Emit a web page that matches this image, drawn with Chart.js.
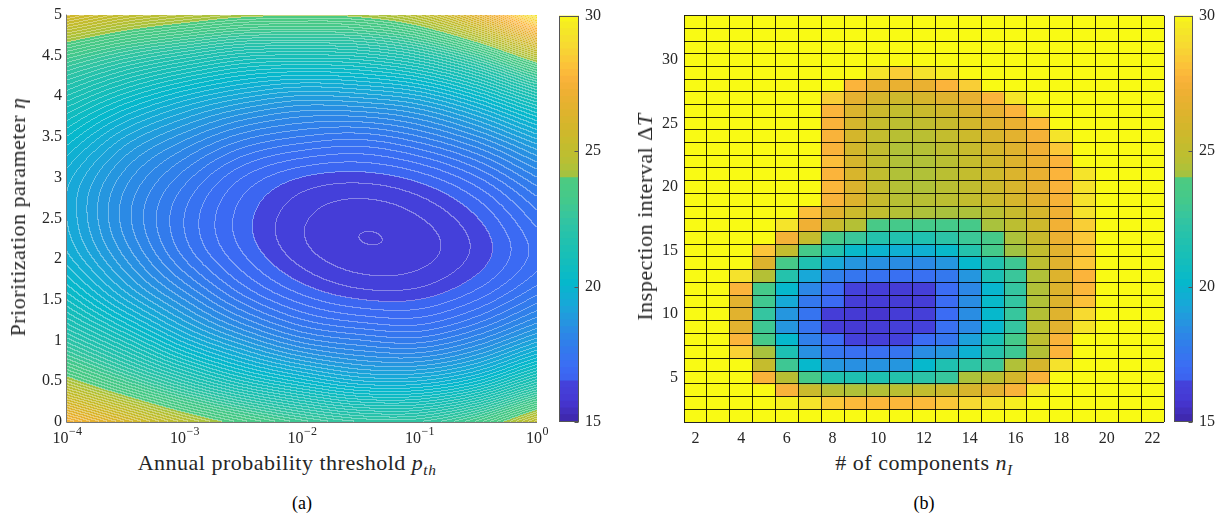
<!DOCTYPE html>
<html>
<head>
<meta charset="utf-8">
<script src="https://cdn.jsdelivr.net/npm/chart.js@4.4.1/dist/chart.umd.min.js"></script>
<style>
  body { margin: 0; background: #fff; }
  #wrap { position: relative; width: 1225px; height: 525px; overflow: hidden;
          font-family: 'Liberation Serif', 'Times New Roman', serif; color: #262626; }
  canvas { position: absolute; top: 0; }
  .lbl { position: absolute; white-space: nowrap; transform: translate(-50%, -50%);
         font-size: 22px; letter-spacing: 0.5px; line-height: 1; }
  .rot { transform: translate(-50%, -50%) rotate(-90deg); }
  .cap { font-size: 18px; letter-spacing: 0; color: #000; }
  sub { font-size: 70%; vertical-align: -0.35em; line-height: 0; }
</style>
</head>
<body>
<div id="wrap">
  <canvas id="contourChart" width="560" height="450" style="left:0"></canvas>
  <canvas id="contourBar" width="80" height="450" style="left:545px"></canvas>
  <canvas id="gridChart" width="570" height="450" style="left:600px"></canvas>
  <canvas id="gridBar" width="61" height="450" style="left:1164px"></canvas>

  <div class="lbl rot" style="left:18px; top:217px">Prioritization parameter <i>η</i></div>
  <div class="lbl" style="left:287px; top:463px">Annual probability threshold <i>p</i><sub><i>th</i></sub></div>
  <div class="lbl rot" style="left:645px; top:217px">Inspection interval Δ<i>T</i></div>
  <div class="lbl" style="left:924px; top:463px"># of components <i>n</i><sub><i>I</i></sub></div>
  <div class="lbl cap" style="left:302px; top:503px">(a)</div>
  <div class="lbl cap" style="left:924px; top:503px">(b)</div>
</div>

<script>
// =========================
// (a) cost surface over threshold / prioritization, read on a 0.5 grid
// =========================
const thresholdExp = [-4, -3.5, -3, -2.5, -2, -1.5, -1, -0.5, 0];   // log10(p_th)
const etaValues = [0, 0.5, 1, 1.5, 2, 2.5, 3, 3.5, 4, 4.5, 5];
const costSurface = [
    [27.4, 26.0, 24.7, 23.7, 22.9, 22.4, 22.4, 23.3, 25.1],   // eta = 0
    [24.3, 23.0, 21.8, 20.8, 20.1, 19.6, 19.6, 20.2, 21.5],
    [22.1, 20.9, 19.7, 18.8, 18.1, 17.8, 17.7, 18.2, 19.1],
    [20.6, 19.4, 18.4, 17.5, 16.9, 16.6, 16.6, 17.0, 17.7],
    [19.7, 18.6, 17.6, 16.85, 16.32, 16.07, 16.13, 16.49, 17.1],
    [19.4, 18.3, 17.4, 16.70, 16.24, 16.05, 16.19, 16.60, 17.3],
    [19.5, 18.5, 17.7, 17.0, 16.6, 16.5, 16.7, 17.2, 18.0],
    [20.2, 19.2, 18.5, 17.9, 17.6, 17.5, 17.8, 18.4, 19.3],
    [21.4, 20.5, 19.8, 19.3, 19.0, 19.1, 19.4, 20.2, 21.4],
    [23.2, 22.4, 21.8, 21.3, 21.2, 21.3, 21.8, 22.9, 24.7],
    [25.9, 25.1, 24.6, 24.2, 24.1, 24.2, 24.9, 26.7, 29.5]    // eta = 5
];
const contourStep = 0.2;
const expTicks = [-4, -3, -2, -1, 0];
const etaTicks = [0, 0.5, 1, 1.5, 2, 2.5, 3, 3.5, 4, 4.5, 5];

// =========================
// (b) cost per (n_I, dT) cell; 31 = above colour range
// =========================
const components = [2, 3, 4, 5, 6, 7, 8, 9, 10, 11, 12, 13, 14, 15, 16, 17, 18, 19, 20, 21, 22];
const intervals = [33, 32, 31, 30, 29, 28, 27, 26, 25, 24, 23, 22, 21, 20, 19, 18, 17,
                   16, 15, 14, 13, 12, 11, 10, 9, 8, 7, 6, 5, 4, 3, 2];
const costGrid = [
    [31, 31, 31, 31, 31, 31, 31, 31, 31, 31, 31, 31, 31, 31, 31, 31, 31, 31, 31, 31, 31],
    [31, 31, 31, 31, 31, 31, 31, 31, 31, 31, 31, 31, 31, 31, 31, 31, 31, 31, 31, 31, 31],
    [31, 31, 31, 31, 31, 31, 31, 31, 31, 31, 31, 31, 31, 31, 31, 31, 31, 31, 31, 31, 31],
    [31, 31, 31, 31, 31, 31, 31, 31, 31, 31, 31, 31, 31, 31, 31, 31, 31, 31, 31, 31, 31],
    [31, 31, 31, 31, 31, 31, 31, 31, 29.3, 28.5, 29.2, 29.7, 31, 31, 31, 31, 31, 31, 31, 31, 31],
    [31, 31, 31, 31, 31, 31, 31, 27.7, 26.9, 26.9, 26.9, 27.7, 28.5, 31, 31, 31, 31, 31, 31, 31, 31],
    [31, 31, 31, 31, 31, 31, 28.5, 26.7, 26.0, 25.6, 26.0, 26.4, 26.8, 27.7, 29.4, 31, 31, 31, 31, 31, 31],
    [31, 31, 31, 31, 31, 31, 27.7, 26.2, 25.5, 25.1, 25.4, 25.7, 26.2, 26.8, 27.7, 29.6, 31, 31, 31, 31, 31],
    [31, 31, 31, 31, 31, 31, 27.6, 26.0, 25.2, 24.8, 25.0, 25.3, 25.8, 26.4, 26.9, 27.9, 31, 31, 31, 31, 31],
    [31, 31, 31, 31, 31, 31, 27.6, 25.9, 25.1, 24.6, 24.7, 25.1, 25.5, 26.1, 26.6, 27.4, 29.3, 31, 31, 31, 31],
    [31, 31, 31, 31, 31, 31, 27.6, 25.8, 25.0, 24.4, 24.5, 24.9, 25.3, 25.9, 26.4, 27.2, 28.3, 31, 31, 31, 31],
    [31, 31, 31, 31, 31, 31, 28.0, 26.0, 25.0, 24.4, 24.4, 24.7, 25.2, 25.7, 26.3, 27.0, 27.7, 31, 31, 31, 31],
    [31, 31, 31, 31, 31, 31, 27.7, 26.1, 25.0, 24.4, 24.4, 24.7, 25.1, 25.6, 26.2, 26.9, 27.7, 29.3, 31, 31, 31],
    [31, 31, 31, 31, 31, 31, 27.8, 26.2, 25.1, 24.5, 24.4, 24.7, 25.0, 25.5, 26.1, 26.7, 27.6, 29.2, 31, 31, 31],
    [31, 31, 31, 31, 31, 31, 27.6, 26.3, 25.3, 24.6, 24.6, 24.8, 25.1, 25.5, 26.0, 26.6, 27.5, 29.2, 31, 31, 31],
    [31, 31, 31, 31, 31, 28.0, 26.5, 25.5, 25.0, 24.5, 24.3, 24.2, 24.3, 24.7, 25.3, 26.0, 27.2, 29.2, 31, 31, 31],
    [31, 31, 31, 31, 29.3, 27.2, 25.3, 24.5, 23.5, 23.2, 23.2, 23.2, 23.3, 24.2, 24.8, 25.6, 27.3, 28.5, 31, 31, 31],
    [31, 31, 31, 31, 27.4, 25.2, 23.3, 22.7, 21.8, 21.7, 21.6, 22.1, 22.8, 23.3, 24.3, 25.4, 27.0, 28.3, 31, 31, 31],
    [31, 31, 31, 28.2, 25.1, 23.2, 21.7, 20.2, 19.9, 19.7, 19.7, 20.2, 21.8, 23.2, 24.0, 25.1, 26.6, 28.2, 31, 31, 31],
    [31, 31, 31, 26.3, 23.3, 21.5, 19.3, 18.7, 18.5, 18.4, 18.3, 18.7, 20.1, 21.6, 22.9, 24.8, 26.5, 28.3, 31, 31, 31],
    [31, 31, 29.2, 24.5, 21.8, 19.3, 17.9, 17.5, 17.3, 17.2, 17.2, 17.6, 18.7, 21.3, 22.7, 24.4, 26.3, 27.7, 31, 31, 31],
    [31, 31, 27.7, 23.2, 20.1, 18.2, 17.0, 16.4, 16.1, 16.0, 16.2, 17.0, 18.2, 20.0, 22.5, 24.4, 26.3, 27.8, 31, 31, 31],
    [31, 31, 26.6, 23.0, 19.4, 17.6, 16.9, 16.1, 16.0, 16.0, 16.1, 17.0, 18.4, 20.2, 22.4, 24.4, 26.3, 28.1, 31, 31, 31],
    [31, 31, 26.5, 22.5, 18.7, 17.4, 16.1, 15.9, 15.7, 16.0, 16.2, 17.0, 18.4, 20.1, 22.6, 24.5, 26.4, 28.9, 31, 31, 31],
    [31, 31, 26.6, 22.9, 18.7, 17.4, 16.1, 15.9, 16.0, 16.2, 16.4, 17.2, 18.3, 20.0, 22.5, 24.7, 26.6, 29.3, 31, 31, 31],
    [31, 31, 27.7, 23.2, 20.1, 17.9, 17.0, 16.4, 16.2, 16.4, 17.0, 17.5, 19.1, 21.2, 23.2, 24.9, 27.6, 31, 31, 31, 31],
    [31, 31, 28.6, 24.2, 21.4, 18.5, 17.5, 17.2, 17.2, 17.4, 18.4, 18.7, 19.8, 21.8, 22.9, 24.5, 27.7, 31, 31, 31, 31],
    [31, 31, 31, 25.2, 22.9, 20.1, 18.7, 18.5, 18.6, 18.7, 20.1, 21.5, 22.2, 22.8, 24.4, 26.0, 29.2, 31, 31, 31, 31],
    [31, 31, 31, 27.6, 24.6, 23.3, 21.7, 21.5, 21.5, 21.8, 22.1, 22.6, 24.3, 24.7, 25.9, 27.6, 31, 31, 31, 31, 31],
    [31, 31, 31, 31, 27.6, 25.5, 24.6, 24.4, 24.5, 24.7, 25.1, 25.5, 26.1, 26.6, 27.6, 29.5, 31, 31, 31, 31, 31],
    [31, 31, 31, 31, 29.8, 29.3, 28.3, 27.9, 27.8, 27.8, 27.9, 28.3, 28.8, 29.2, 29.7, 31, 31, 31, 31, 31, 31],
    [31, 31, 31, 31, 31, 31, 31, 31, 31, 31, 31, 31, 31, 31, 31, 31, 31, 31, 31, 31, 31]
];
const intervalTicks = [5, 10, 15, 20, 25, 30];
const colorTicks = [15, 20, 25, 30];
const colorMin = 15, colorMax = 30;

// parula-like map as seen on the colour bars
const cmapStops = [
    [15.0, 62, 38, 168], [15.7, 70, 54, 208], [16.0, 69, 60, 214], [16.6, 68, 68, 221],
    [16.62, 60, 100, 240], [17.0, 59, 108, 244], [17.5, 53, 118, 239], [18.2, 44, 135, 230],
    [18.7, 37, 150, 223], [19.3, 24, 168, 216], [20.1, 6, 184, 204], [21.0, 22, 190, 185],
    [21.7, 34, 193, 174], [22.5, 53, 197, 160], [23.2, 69, 201, 138], [23.9, 76, 202, 130],
    [24.0, 160, 194, 66], [24.3, 173, 194, 58], [24.6, 184, 191, 51], [25.2, 197, 188, 45],
    [25.8, 210, 183, 43], [26.5, 225, 178, 46], [27.2, 240, 176, 52], [27.7, 251, 180, 59],
    [28.3, 251, 200, 56], [28.8, 247, 216, 50], [29.3, 245, 228, 42], [29.8, 247, 240, 30],
    [30.0, 249, 250, 20]
];

const FONT = "'Liberation Serif', 'Times New Roman', serif";
const TEXT = '#262626';

function cmapRGB(v) {
    v = Math.min(Math.max(v, colorMin), colorMax);
    for (let i = 1; i < cmapStops.length; i++) {
        const b = cmapStops[i];
        if (v <= b[0]) {
            const a = cmapStops[i - 1];
            const t = (v - a[0]) / (b[0] - a[0]);
            return [a[1] + (b[1] - a[1]) * t, a[2] + (b[2] - a[2]) * t, a[3] + (b[3] - a[3]) * t];
        }
    }
    const l = cmapStops[cmapStops.length - 1];
    return [l[1], l[2], l[3]];
}
function cmapCss(v) {
    const c = cmapRGB(v);
    return `rgb(${Math.round(c[0])},${Math.round(c[1])},${Math.round(c[2])})`;
}

// catmull-rom between the read grid values
function cr(p0, p1, p2, p3, t) {
    return p1 + 0.5 * t * (p2 - p0 + t * (2 * p0 - 5 * p1 + 4 * p2 - p3 + t * (3 * (p1 - p2) + p3 - p0)));
}
function pick(arr, k) {
    const n = arr.length;
    if (k < 0) return 2 * arr[0] - arr[1];
    if (k > n - 1) return 2 * arr[n - 1] - arr[n - 2];
    return arr[k];
}
function surfaceAt(lx, eta) {
    const nx = thresholdExp.length, ny = etaValues.length;
    const gx = (lx - thresholdExp[0]) / (thresholdExp[1] - thresholdExp[0]);
    const gy = (eta - etaValues[0]) / (etaValues[1] - etaValues[0]);
    const i = Math.min(Math.max(Math.floor(gx), 0), nx - 2);
    const j = Math.min(Math.max(Math.floor(gy), 0), ny - 2);
    const tx = gx - i, ty = gy - j;
    const rowVal = r => {
        const rr = r < 0 ? costSurface[0].map((v, k) => 2 * v - costSurface[1][k])
                 : r > ny - 1 ? costSurface[ny - 1].map((v, k) => 2 * v - costSurface[ny - 2][k])
                 : costSurface[r];
        return cr(pick(rr, i - 1), pick(rr, i), pick(rr, i + 1), pick(rr, i + 2), tx);
    };
    return cr(rowVal(j - 1), rowVal(j), rowVal(j + 1), rowVal(j + 2), ty);
}

// =========================
// contour fill + white level lines
// =========================
const contourFill = {
    id: 'contourFill',
    beforeDatasetsDraw(chart) {
        const { ctx, chartArea: a, scales: { x, y } } = chart;
        const x0 = Math.round(a.left), y0 = Math.round(a.top);
        const w = Math.round(a.right) - x0, h = Math.round(a.bottom) - y0;
        const band = new Int16Array(w * h);
        const lxs = [];
        for (let px = 0; px < w; px++) lxs.push(Math.log10(x.getValueForPixel(x0 + px + 0.5)));
        for (let py = 0; py < h; py++) {
            const eta = y.getValueForPixel(y0 + py + 0.5);
            for (let px = 0; px < w; px++) {
                band[py * w + px] = Math.floor((surfaceAt(lxs[px], eta) - colorMin) / contourStep);
            }
        }
        const img = ctx.createImageData(w, h);
        for (let py = 0; py < h; py++) {
            for (let px = 0; px < w; px++) {
                const i = py * w + px;
                const k = band[i];
                const c = cmapRGB(colorMin + (k + 0.5) * contourStep);
                const edge = (px < w - 1 && band[i + 1] !== k) || (py < h - 1 && band[i + w] !== k);
                const al = edge ? 0.36 : 0;
                img.data[i * 4] = c[0] * (1 - al) + 255 * al;
                img.data[i * 4 + 1] = c[1] * (1 - al) + 255 * al;
                img.data[i * 4 + 2] = c[2] * (1 - al) + 255 * al;
                img.data[i * 4 + 3] = 255;
            }
        }
        ctx.putImageData(img, x0, y0);
    },
    afterDraw(chart) {
        const { ctx, chartArea: a, scales: { x } } = chart;
        ctx.save();
        ctx.strokeStyle = '#777';
        ctx.lineWidth = 1;
        ctx.beginPath();
        ctx.moveTo(Math.round(a.left) - 0.5, a.top);
        ctx.lineTo(Math.round(a.left) - 0.5, Math.round(a.bottom) + 0.5);
        ctx.lineTo(a.right, Math.round(a.bottom) + 0.5);
        ctx.stroke();
        // 10^n tick labels
        ctx.fillStyle = TEXT;
        ctx.textBaseline = 'alphabetic';
        ctx.textAlign = 'left';
        expTicks.forEach(e => {
            const px = x.getPixelForValue(Math.pow(10, e));
            const ex = e < 0 ? '\u2212' + (-e) : String(e);
            ctx.font = `16px ${FONT}`;
            const wb = ctx.measureText('10').width;
            ctx.font = `12px ${FONT}`;
            const we = ctx.measureText(ex).width;
            const start = px - (wb + we) / 2;
            ctx.font = `16px ${FONT}`;
            ctx.fillText('10', start, a.bottom + 21);
            ctx.font = `12px ${FONT}`;
            ctx.fillText(ex, start + wb + 0.5, a.bottom + 13);
        });
        ctx.restore();
    }
};

new Chart(document.getElementById('contourChart'), {
    type: 'scatter',
    data: { datasets: [{ data: [] }] },
    options: {
        responsive: false,
        animation: false,
        events: [],
        layout: { padding: { left: 0, top: 12, right: 23, bottom: 0 } },
        plugins: { legend: { display: false }, tooltip: { enabled: false } },
        scales: {
            x: {
                type: 'logarithmic',
                min: 1e-4,
                max: 1,
                grid: { display: false, drawTicks: false },
                border: { display: false },
                ticks: { display: false },
                afterFit: s => { s.height = 28; }
            },
            y: {
                min: 0,
                max: 5,
                afterBuildTicks: s => { s.ticks = etaTicks.map(v => ({ value: v })); },
                grid: { display: false, drawTicks: false },
                border: { display: false },
                ticks: { color: TEXT, padding: 5, font: { family: FONT, size: 16 }, callback: v => String(v) },
                afterFit: s => { s.width = 67; }
            }
        }
    },
    plugins: [contourFill]
});

// =========================
// colour bars
// =========================
const barFrame = {
    id: 'barFrame',
    afterDatasetsDraw(chart) {
        const { ctx, chartArea: a, scales: { y } } = chart;
        ctx.save();
        ctx.strokeStyle = '#555';
        ctx.lineWidth = 1;
        const l = Math.round(a.left) + 0.5, r = Math.round(a.right) - 0.5;
        const t = Math.round(a.top) + 0.5, b = Math.round(a.bottom) - 0.5;
        ctx.strokeRect(l, t, r - l, b - t);
        ctx.beginPath();
        colorTicks.forEach(v => {
            const py = Math.round(y.getPixelForValue(v)) + 0.5;
            ctx.moveTo(r, py);
            ctx.lineTo(r - 4, py);
        });
        ctx.stroke();
        ctx.restore();
    }
};

function colorbar(id, padLeft, axisWidth, tickPad) {
    const steps = [];
    for (let v = colorMin; v < colorMax - 1e-9; v += 0.25) steps.push(v);
    new Chart(document.getElementById(id), {
        type: 'bar',
        data: {
            labels: [''],
            datasets: steps.map(v => ({
                data: [[v, Math.min(v + 0.27, colorMax)]],
                backgroundColor: cmapCss(v + 0.125),
                grouped: false,
                barPercentage: 1,
                categoryPercentage: 1,
                borderWidth: 0
            }))
        },
        options: {
            responsive: false,
            animation: false,
            events: [],
            layout: { padding: { left: padLeft, top: 12, bottom: 28, right: 0 } },
            plugins: { legend: { display: false }, tooltip: { enabled: false } },
            scales: {
                x: { display: false },
                y: {
                    position: 'right',
                    min: colorMin,
                    max: colorMax,
                    afterBuildTicks: s => { s.ticks = colorTicks.map(v => ({ value: v })); },
                    grid: { display: false, drawTicks: false },
                    border: { display: false },
                    ticks: { color: TEXT, padding: tickPad, font: { family: FONT, size: 16 } },
                    afterFit: s => { s.width = axisWidth; }
                }
            }
        },
        plugins: [barFrame]
    });
}
colorbar('contourBar', 14, 46, 6);
colorbar('gridBar', 10, 32, 6);

// =========================
// (b) cell grid as floating bars
// =========================
const cellLines = {
    id: 'cellLines',
    afterDatasetsDraw(chart) {
        const { ctx, chartArea: a, scales: { x, y } } = chart;
        ctx.save();
        ctx.strokeStyle = 'rgba(0,0,0,0.85)';
        ctx.lineWidth = 1;
        ctx.beginPath();
        for (let i = 0; i <= components.length; i++) {
            const px = Math.floor(x.getPixelForValue(i - 0.5)) + 0.5;
            ctx.moveTo(px, a.top);
            ctx.lineTo(px, a.bottom);
        }
        const lo = intervals[intervals.length - 1], hi = intervals[0];
        for (let d = lo; d <= hi + 1; d++) {
            const py = Math.floor(y.getPixelForValue(d - 0.5)) + 0.5;
            ctx.moveTo(a.left, py);
            ctx.lineTo(a.right, py);
        }
        ctx.stroke();
        ctx.restore();
    }
};

new Chart(document.getElementById('gridChart'), {
    type: 'bar',
    data: {
        labels: components.map(String),
        datasets: intervals.map((dt, r) => ({
            data: components.map(() => [dt - 0.5, dt + 0.5]),
            backgroundColor: costGrid[r].map(cmapCss),
            grouped: false,
            barPercentage: 1,
            categoryPercentage: 1,
            borderWidth: 0
        }))
    },
    options: {
        responsive: false,
        animation: false,
        events: [],
        layout: { padding: { left: 0, top: 12, right: 6, bottom: 0 } },
        plugins: { legend: { display: false }, tooltip: { enabled: false } },
        scales: {
            x: {
                offset: true,
                grid: { display: false, drawTicks: false },
                border: { display: false },
                ticks: {
                    color: TEXT,
                    padding: 7,
                    autoSkip: false,
                    maxRotation: 0,
                    font: { family: FONT, size: 16 },
                    callback: (v, i) => (components[i] % 2 === 0 ? String(components[i]) : '')
                },
                afterFit: s => { s.height = 28; }
            },
            y: {
                min: 1.5,
                max: 33.5,
                afterBuildTicks: s => { s.ticks = intervalTicks.map(v => ({ value: v })); },
                grid: { display: false, drawTicks: false },
                border: { display: false },
                ticks: { color: TEXT, padding: 6, font: { family: FONT, size: 16 } },
                afterFit: s => { s.width = 84; }
            }
        }
    },
    plugins: [cellLines]
});
</script>
</body>
</html>
